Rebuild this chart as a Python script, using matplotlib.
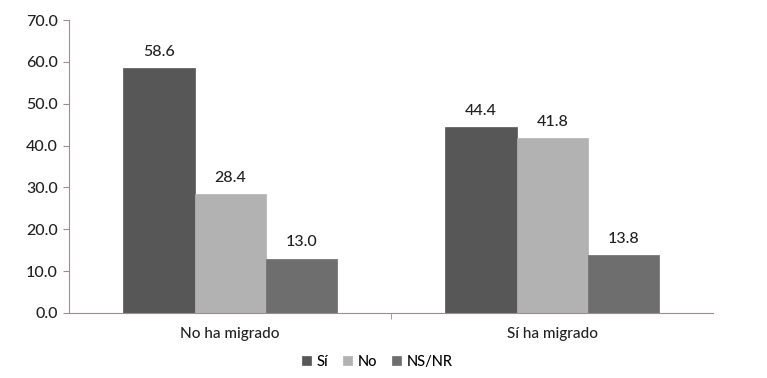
import matplotlib.pyplot as plt
import numpy as np

plt.rcParams['font.family'] = ['Lato', 'DejaVu Sans']

categorias = ['No ha migrado', 'Sí ha migrado']
series = ['Sí', 'No', 'NS/NR']
valores_si = [58.6, 44.4]
valores_no = [28.4, 41.8]
valores_nsnr = [13.0, 13.8]
colores = ['#575757', '#b2b2b2', '#6e6e6e']

fig = plt.figure(figsize=(7.67, 3.78), dpi=100)
ax = fig.add_axes([0.09, 0.172, 0.84, 0.775])

x = np.arange(len(categorias))
ancho = 0.221
for i, (vals, nombre, col) in enumerate(zip([valores_si, valores_no, valores_nsnr], series, colores)):
    pos = x + (i - 1) * ancho
    ax.bar(pos, vals, ancho, color=col, label=nombre, edgecolor=col, linewidth=0.5)
    for px, v in zip(pos, vals):
        ax.text(px, v + 2.2, f'{v:.1f}', ha='center', va='bottom', fontsize=11.5,
                color='#222222', fontweight='medium')

ax.set_xlim(-0.5, 1.5)
ax.set_ylim(0, 70)
ax.set_yticks(np.arange(0, 71, 10))
ax.set_yticklabels([f'{t:.1f}' for t in np.arange(0, 71, 10)], fontsize=11.5,
                   color='#222222', fontweight='medium')
ax.set_xticks(x)
ax.set_xticklabels(categorias, fontsize=11, color='#222222', fontweight='medium')
ax.tick_params(axis='x', length=0, pad=10)
ax.set_xticks([0.5], minor=True)
ax.tick_params(axis='x', which='minor', length=4, color='#9a8e8e')
ax.tick_params(axis='y', length=4, color='#9a8e8e', pad=4)

for lado in ['top', 'right']:
    ax.spines[lado].set_visible(False)
ax.spines['left'].set_color('#9a8e8e')
ax.spines['bottom'].set_color('#9a8e8e')

fig.legend(loc='lower center', bbox_to_anchor=(0.492, -0.01), ncol=3, frameon=False,
           prop={'size': 10.5, 'weight': 'medium'}, handlelength=0.6, handleheight=0.6,
           handletextpad=0.4, columnspacing=1.0)

fig.savefig('out.png', dpi=100)
